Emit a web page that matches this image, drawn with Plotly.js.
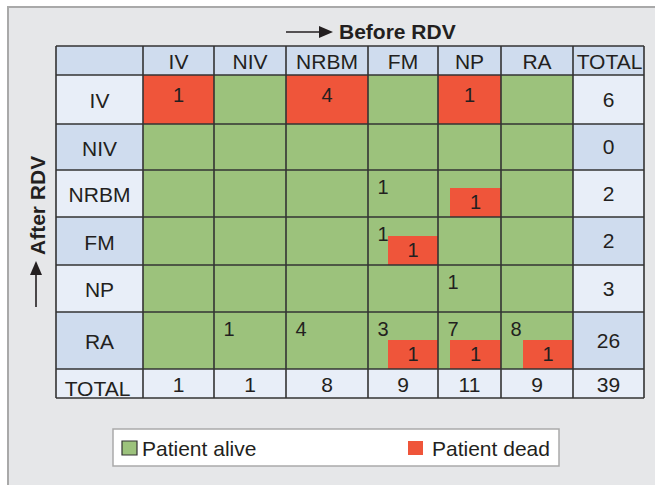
<!DOCTYPE html>
<html>
<head>
<meta charset="utf-8">
<script src="https://cdn.plot.ly/plotly-3.0.1.min.js"></script>
<style>html,body{margin:0;padding:0;background:#fff;}#chart{width:655px;height:485px;}</style>
</head>
<body>
<div id="chart"></div>
<script>
// ---------- DATA ----------
const categories = ['IV', 'NIV', 'NRBM', 'FM', 'NP', 'RA'];
// rows = after RDV, columns = before RDV
const aliveCounts = [
  [0, 0, 0, 0, 0, 0],
  [0, 0, 0, 0, 0, 0],
  [0, 0, 0, 1, 0, 0],
  [0, 0, 0, 1, 0, 0],
  [0, 0, 0, 0, 1, 0],
  [0, 1, 4, 3, 7, 8]
];
const deadCounts = [
  [1, 0, 4, 0, 1, 0],
  [0, 0, 0, 0, 0, 0],
  [0, 0, 0, 0, 1, 0],
  [0, 0, 0, 1, 0, 0],
  [0, 0, 0, 0, 0, 0],
  [0, 0, 0, 1, 1, 1]
];
const rowTotals = [6, 0, 2, 2, 3, 26];
const colTotals = [1, 1, 8, 9, 11, 9];
const grandTotal = 39;
const totalLabel = 'TOTAL';
const legendLabels = ['Patient alive', 'Patient dead'];
const axisLabels = ['Before RDV', 'After RDV'];

// ---------- LAYOUT / STYLE ----------
const colEdges = [56, 143, 214, 286, 368, 438, 501, 573, 644];
const rowEdges = [46, 75, 124, 170, 217, 265, 312, 369, 398];
const fullRedRow = 'IV';                         // dead cells in this row fill the whole cell
const deadBoxOffset = [0, 16, 16, 20, 12, 22];   // left inset of partial red box per column
const deadBoxHeight = 29;
const TXT_DY = 2.5;                              // baseline correction for visual centring
const C = {
  header: '#cfdcee', light: '#e8eef8', green: '#9cc27c', red: '#ef553a',
  frame: '#e6e7e9', frameLine: '#a9a9a9', grid: '#333333', text: '#231f20'
};
const FONT = 'Liberation Sans, Arial, Helvetica, sans-serif';

const nCols = colEdges.length - 1, nRows = rowEdges.length - 1;
const cx = i => (colEdges[i] + colEdges[i + 1]) / 2;
const cy = i => (rowEdges[i] + rowEdges[i + 1]) / 2;

// cell colour codes: 0 header, 1 light, 2 alive(green), 3 dead(red)
const z = [];
for (let r = 0; r < nRows; r++) {
  const row = [];
  for (let c = 0; c < nCols; c++) {
    let v;
    if (r === 0) v = 0;
    else if (r === nRows - 1) v = 1;
    else {
      const i = r - 1;
      if (c === 0 || c === nCols - 1) v = (i % 2 === 0) ? 1 : 0;
      else {
        const j = c - 1;
        v = (categories[i] === fullRedRow && deadCounts[i][j] > 0) ? 3 : 2;
      }
    }
    row.push(v);
  }
  z.push(row);
}

const heat = {
  type: 'heatmap', x: colEdges, y: rowEdges, z: z,
  zmin: -0.5, zmax: 3.5, showscale: false, hoverinfo: 'skip', zsmooth: false,
  colorscale: [[0, C.header], [0.25, C.header], [0.25, C.light], [0.5, C.light],
               [0.5, C.green], [0.75, C.green], [0.75, C.red], [1, C.red]]
};

// partial red boxes
const bx = [], bw = [], bbase = [], by = [];
const tX = [], tY = [], tT = [];
for (let i = 0; i < categories.length; i++) {
  for (let j = 0; j < categories.length; j++) {
    const a = aliveCounts[i][j], d = deadCounts[i][j];
    const left = colEdges[j + 1], right = colEdges[j + 2];
    const top = rowEdges[i + 1], bottom = rowEdges[i + 2];
    if (a > 0) { tX.push(left + 15); tY.push(top + 16.5 + TXT_DY); tT.push(String(a)); }
    if (d > 0 && categories[i] !== fullRedRow) {
      const l = left + deadBoxOffset[j];
      bx.push((l + right) / 2); bw.push(right - l); bbase.push(bottom); by.push(-deadBoxHeight);
      tX.push((l + right) / 2); tY.push(bottom - deadBoxHeight / 2 - 1 + TXT_DY); tT.push(String(d));
    } else if (d > 0) {
      tX.push((left + right) / 2); tY.push(top + 19.5 + TXT_DY); tT.push(String(d));
    }
  }
}
const bars = {
  type: 'bar', x: bx, y: by, base: bbase, width: bw, orientation: 'v',
  marker: { color: C.red, line: { width: 0 } }, hoverinfo: 'skip', textposition: 'none'
};

// labels
const lX = [], lY = [], lT = [];
categories.forEach((c, j) => { lX.push(cx(j + 1)); lY.push(cy(0) + 0.5 + TXT_DY); lT.push(c); });
lX.push(cx(nCols - 1) + 1); lY.push(cy(0) + 0.5 + TXT_DY); lT.push(totalLabel);
categories.forEach((c, i) => { lX.push(cx(0)); lY.push(cy(i + 1) + 1 + TXT_DY); lT.push(c); });
lX.push(cx(0) - 2); lY.push(388 - 0 + TXT_DY); lT.push(totalLabel);
rowTotals.forEach((v, i) => { lX.push(cx(nCols - 1)); lY.push(cy(i + 1) - 0.5 + TXT_DY); lT.push(String(v)); });
colTotals.forEach((v, j) => { lX.push(cx(j + 1)); lY.push(cy(nRows - 1) + 1 + TXT_DY); lT.push(String(v)); });
lX.push(cx(nCols - 1)); lY.push(cy(nRows - 1) + 1 + TXT_DY); lT.push(String(grandTotal));

const cellText = { type: 'scatter', mode: 'text', x: tX, y: tY, text: tT, textposition: 'middle center',
  textfont: { family: FONT, size: 20, color: C.text }, hoverinfo: 'skip', cliponaxis: false };
const labelText = { type: 'scatter', mode: 'text', x: lX, y: lY, text: lT, textposition: 'middle center',
  textfont: { family: FONT, size: 21, color: C.text }, hoverinfo: 'skip', cliponaxis: false };

// shapes
const shapes = [];
shapes.push({ type: 'rect', xref: 'x', yref: 'y', x0: 8, y0: 7, x1: 680, y1: 500, layer: 'below',
  fillcolor: C.frame, line: { color: C.frameLine, width: 2 } });
colEdges.forEach(x => shapes.push({ type: 'line', xref: 'x', yref: 'y', x0: x, x1: x,
  y0: rowEdges[0], y1: rowEdges[nRows], line: { color: C.grid, width: 1.6 } }));
rowEdges.forEach(y => shapes.push({ type: 'line', xref: 'x', yref: 'y', y0: y, y1: y,
  x0: colEdges[0], x1: colEdges[nCols], line: { color: C.grid, width: 1.6 } }));
// arrows
shapes.push({ type: 'line', xref: 'x', yref: 'y', x0: 286, x1: 321, y0: 32, y1: 32, line: { color: C.text, width: 1.6 } });
shapes.push({ type: 'path', xref: 'x', yref: 'y', path: 'M 319 26 L 333 32 L 319 38 Z', fillcolor: C.text, line: { width: 0 } });
shapes.push({ type: 'line', xref: 'x', yref: 'y', x0: 36, x1: 36, y0: 307, y1: 273, line: { color: C.text, width: 1.6 } });
shapes.push({ type: 'path', xref: 'x', yref: 'y', path: 'M 30 275 L 36 261 L 42 275 Z', fillcolor: C.text, line: { width: 0 } });
// legend
shapes.push({ type: 'rect', xref: 'x', yref: 'y', x0: 113, y0: 429, x1: 559, y1: 466, fillcolor: '#ffffff', line: { color: '#aaaaaa', width: 1.5 } });
shapes.push({ type: 'rect', xref: 'x', yref: 'y', x0: 122, y0: 441, x1: 137, y1: 455, fillcolor: C.green, line: { color: '#333333', width: 1.2 } });
shapes.push({ type: 'rect', xref: 'x', yref: 'y', x0: 408, y0: 441, x1: 423, y1: 455, fillcolor: C.red, line: { width: 0 } });

const annotations = [
  { xref: 'x', yref: 'y', x: 337, y: 31, xanchor: 'left', yanchor: 'middle', showarrow: false,
    text: '<b>' + axisLabels[0] + '</b>', font: { family: FONT, size: 21, color: C.text } },
  { xref: 'x', yref: 'y', x: 37, y: 206, xanchor: 'center', yanchor: 'middle', showarrow: false, textangle: -90,
    text: '<b>' + axisLabels[1] + '</b>', font: { family: FONT, size: 21, color: C.text } },
  { xref: 'x', yref: 'y', x: 140, y: 448, xanchor: 'left', yanchor: 'middle', showarrow: false,
    text: legendLabels[0], font: { family: FONT, size: 21, color: C.text } },
  { xref: 'x', yref: 'y', x: 430, y: 448, xanchor: 'left', yanchor: 'middle', showarrow: false,
    text: legendLabels[1], font: { family: FONT, size: 21, color: C.text } }
];

const layout = {
  width: 655, height: 485, autosize: false,
  margin: { l: 0, r: 0, t: 0, b: 0, pad: 0 },
  paper_bgcolor: '#ffffff', plot_bgcolor: 'rgba(0,0,0,0)',
  showlegend: false, bargap: 0,
  xaxis: { range: [0, 655], visible: false, fixedrange: true },
  yaxis: { range: [485, 0], visible: false, fixedrange: true },
  shapes: shapes, annotations: annotations
};

Plotly.newPlot('chart', [heat, bars, cellText, labelText], layout, { displayModeBar: false, staticPlot: true });
</script>
</body>
</html>
